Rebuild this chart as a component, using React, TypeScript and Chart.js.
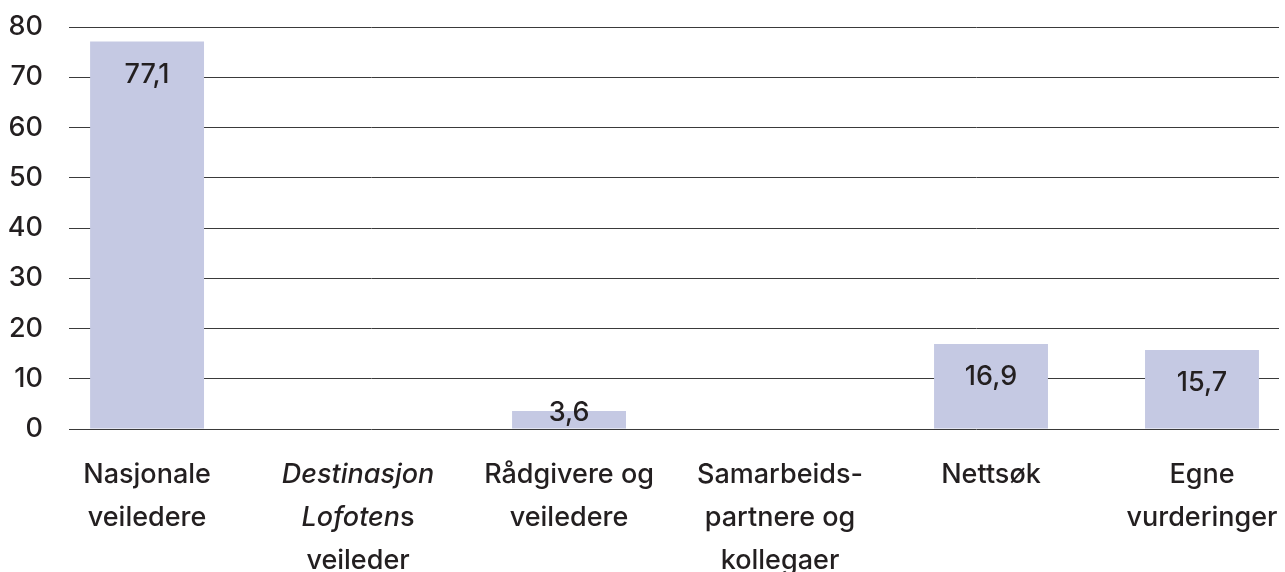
import React, { useEffect, useRef } from "react";
import { Chart, registerables } from "chart.js";

Chart.register(...registerables);

const categories = [
  "Nasjonale veiledere",
  "Destinasjon Lofotens veileder",
  "Rådgivere og veiledere",
  "Samarbeidspartnere og kollegaer",
  "Nettsøk",
  "Egne vurderinger",
];
const values: (number | null)[] = [77.1, null, 3.6, null, 16.9, 15.7];
// tick label lines; *...* marks italic text
const tickLabelLines: string[][] = [
  ["Nasjonale", "veiledere"],
  ["*Destinasjon*", "*Lofoten*s", "veileder"],
  ["Rådgivere og", "veiledere"],
  ["Samarbeids-", "partnere og", "kollegaer"],
  ["Nettsøk"],
  ["Egne", "vurderinger"],
];
const yMin = 0;
const yMax = 80;
const yStep = 10;

const FONT = "Inter, 'Noto Sans', sans-serif";
const TEXT = "#231f20";
const BAR = "#c5c9e3";
const GRID = "#3a3a3a";

function parseSegments(line: string) {
  const parts = line.split("*");
  return parts
    .map((t, i) => ({ text: t, italic: i % 2 === 1 }))
    .filter((s) => s.text.length > 0);
}

const labelsPlugin = {
  id: "customLabels",
  afterDraw(chart: any) {
    const ctx = chart.ctx;
    const xScale = chart.scales.x;
    const area = chart.chartArea;
    ctx.save();
    ctx.fillStyle = TEXT;
    ctx.textBaseline = "alphabetic";
    ctx.textAlign = "left";
    tickLabelLines.forEach((lines, i) => {
      const cx = xScale.getPixelForValue(i);
      lines.forEach((line, j) => {
        const segs = parseSegments(line);
        let total = 0;
        const widths = segs.map((s) => {
          ctx.font = `${s.italic ? "italic " : ""}500 27px ${FONT}`;
          const w = ctx.measureText(s.text).width;
          total += w;
          return w;
        });
        let x = cx - total / 2;
        const y = area.bottom + 54 + j * 43;
        segs.forEach((s, k) => {
          ctx.font = `${s.italic ? "italic " : ""}500 27px ${FONT}`;
          ctx.fillText(s.text, x, y);
          x += widths[k];
        });
      });
    });
    // value labels
    const meta = chart.getDatasetMeta(0);
    ctx.font = `500 27px ${FONT}`;
    ctx.textAlign = "center";
    meta.data.forEach((el: any, i: number) => {
      const v = values[i];
      if (v === null || v === undefined) return;
      const h = el.base - el.y;
      const y = h > 50 ? el.y + 41 : el.y + 10;
      ctx.fillText(v.toFixed(1).replace(".", ","), el.x, y);
    });
    ctx.restore();
  },
};

export default function App() {
  const ref = useRef<HTMLCanvasElement | null>(null);
  useEffect(() => {
    document.body.style.margin = "0";
    const canvas = ref.current!;
    const chart = new Chart(canvas, {
      type: "bar",
      data: {
        datasets: [
          {
            label: "Andel",
            data: values.map((v, i) => ({ x: i, y: v })) as any,
            backgroundColor: BAR,
            borderWidth: 0,
            barPercentage: 0.54,
            categoryPercentage: 1,
          },
        ],
      },
      options: {
        animation: false,
        responsive: false,
        devicePixelRatio: 1,
        layout: { padding: { top: 27, right: 6, left: 0, bottom: 0 } },
        plugins: {
          legend: { display: false },
          tooltip: { enabled: false },
        },
        scales: {
          x: {
            type: "linear",
            offset: false,
            min: -0.37,
            max: 5.365,
            grid: { display: false },
            border: { display: false },
            ticks: { display: false },
            afterBuildTicks(scale: any) {
              scale.ticks = categories.map((_, i) => ({ value: i }));
            },
            afterFit(scale: any) {
              scale.height = 143;
            },
          },
          y: {
            min: yMin,
            max: yMax,
            ticks: {
              stepSize: yStep,
              color: TEXT,
              padding: 26,
              font: { family: FONT, size: 27, weight: "500" },
            },
            grid: { color: GRID, lineWidth: 1, drawTicks: false },
            border: { display: false },
            afterFit(scale: any) {
              scale.width = 69;
              scale.paddingTop = 0;
              scale.paddingBottom = 0;
            },
          },
        },
      } as any,
      plugins: [labelsPlugin],
    });
    return () => chart.destroy();
  }, []);
  return (
    <div style={{ width: 1285, height: 572 }}>
      <canvas ref={ref} width={1285} height={572} aria-label={categories.join(", ")} />
    </div>
  );
}
